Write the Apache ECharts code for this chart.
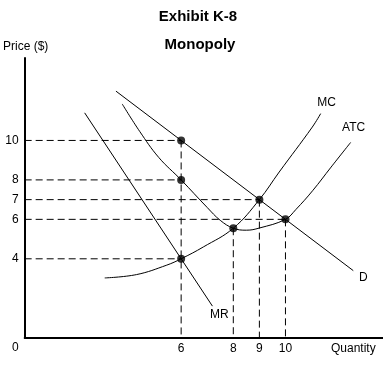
<!DOCTYPE html>
<html><head><meta charset="utf-8">
<script src="https://cdn.jsdelivr.net/npm/echarts@6/dist/echarts.min.js"></script>
<style>html,body{margin:0;padding:0;background:#fff}#c{width:383px;height:372px}</style>
</head><body><div id="c"></div>
<script>
// ---- data (economic units: quantity, price $) ----
const qtyTicks = [6, 8, 9, 10];
const priceTicks = [4, 6, 7, 8, 10];
const demandCurve = [[3.5, 12.5], [12.6, 3.4]];
const mrCurve = [[2.3, 11.4], [7.2, 1.6]];
const mcCurve = [[3.07, 3.03], [4.29, 3.2], [5.45, 3.68], [6, 4], [6.85, 4.6], [8, 5.55], [9, 7], [9.76, 8.4], [11.03, 10.68], [11.35, 11.36]];
const atcCurve = [[3.74, 11.85], [4.41, 10.46], [5.14, 9.14], [6, 8], [7, 6.6], [7.5, 5.95], [8, 5.55], [8.5, 5.45], [9, 5.56], [10, 6], [10.4, 6.5], [11.04, 7.45], [11.75, 8.65], [12.5, 9.9]];
const keyQ = [6, 6, 6, 8, 9, 10];
const keyP = [10, 8, 4, 5.55, 7, 6];

const FONT = 'Liberation Sans, Arial, sans-serif';
const keyPoints = keyQ.map((q, i) => [q, keyP[i]]);

// dashed guides built from the key points
const guides = [];
priceTicks.forEach(p => {
  const pt = keyPoints.find(k => k[1] === p);
  if (pt) guides.push([[0, p], [pt[0], p]]);
});
qtyTicks.forEach(q => {
  const ps = keyPoints.filter(k => k[0] === q).map(k => k[1]);
  guides.push([[q, Math.max(...ps)], [q, 0]]);
});

const labelOffsets = { D: [10, 7], MR: [7, 9], MC: [6, -11], ATC: [3, -15] };
function curveSeries(name, pts, smooth) {
  return {
    type: 'line', name, smooth, silent: true, z: 3,
    showSymbol: true, symbol: 'circle', symbolSize: 0,
    lineStyle: { color: '#000', width: 1 },
    itemStyle: { color: '#000' },
    data: pts.map((p, i) => i === pts.length - 1
      ? { value: p, label: { show: true, formatter: name, position: 'inside', offset: labelOffsets[name], color: '#000', fontSize: 12, fontFamily: FONT } }
      : { value: p, label: { show: false } })
  };
}

const series = [];
guides.forEach(g => series.push({
  type: 'line', silent: true, symbol: 'none', z: 2,
  lineStyle: { color: '#000', width: 1, type: [7, 4] },
  data: g
}));
series.push(curveSeries('D', demandCurve, false));
series.push(curveSeries('MR', mrCurve, false));
series.push(curveSeries('MC', mcCurve, 0.4));
series.push(curveSeries('ATC', atcCurve, 0.4));
series.push({
  type: 'scatter', silent: true, z: 5, symbolSize: 8,
  itemStyle: { color: '#000' }, data: keyPoints
});

const chart = echarts.init(document.getElementById('c'), null, { renderer: 'canvas' });
chart.setOption({
  animation: false,
  backgroundColor: '#fff',
  title: [
    { text: 'Exhibit K-8', left: 193, top: 4, textAlign: 'center',
      textStyle: { fontSize: 15, fontWeight: 'bold', fontFamily: FONT, color: '#000' } },
    { text: 'Monopoly', left: 195, top: 32, textAlign: 'center',
      textStyle: { fontSize: 15, fontWeight: 'bold', fontFamily: FONT, color: '#000' } }
  ],
  grid: { left: 23, right: 0, top: 58, bottom: 34.3 },
  xAxis: {
    type: 'value', min: 0, max: 13.74,
    axisLine: { lineStyle: { color: '#000', width: 2 } },
    axisTick: { show: false }, splitLine: { show: false },
    axisLabel: { customValues: qtyTicks, margin: 5, fontSize: 12, color: '#000', fontFamily: FONT },
    name: 'Quantity', nameLocation: 'end', nameGap: -52,
    nameTextStyle: { fontSize: 12, color: '#000', fontFamily: FONT, align: 'left', verticalAlign: 'top', padding: [5, 0, 0, 0] }
  },
  yAxis: {
    type: 'value', min: 0, max: 14.18,
    axisLine: { lineStyle: { color: '#000', width: 2 } },
    axisTick: { show: false }, splitLine: { show: false },
    axisLabel: { customValues: priceTicks, margin: 6, fontSize: 12, color: '#000', fontFamily: FONT },
    name: 'Price ($)', nameLocation: 'end', nameGap: 5,
    nameTextStyle: { fontSize: 12, color: '#000', fontFamily: FONT, align: 'center', padding: [0, 0, 0, 2] }
  },
  graphic: [{
    type: 'text', left: 12, top: 342,
    style: { text: '0', fontSize: 12, fontFamily: FONT, fill: '#000' }
  }],
  series
});
</script></body></html>
